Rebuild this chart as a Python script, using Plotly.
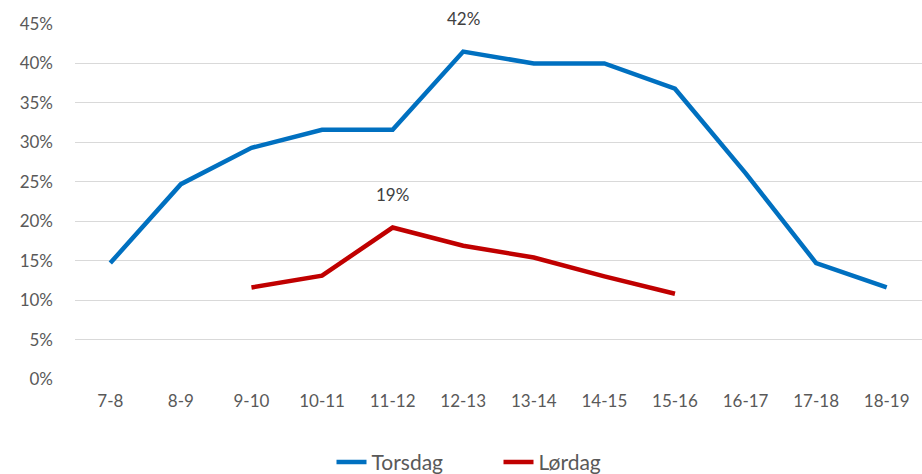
import plotly.graph_objects as go

hours = ["7-8", "8-9", "9-10", "10-11", "11-12", "12-13",
         "13-14", "14-15", "15-16", "16-17", "17-18", "18-19"]
torsdag = [14.7, 24.7, 29.3, 31.6, 31.6, 41.5, 40.0, 40.0, 36.8, 26.1, 14.7, 11.6]
lordag = [None, None, 11.6, 13.1, 19.2, 16.9, 15.4, 13.0, 10.8, None, None, None]

BLUE = "#0070C0"
RED = "#C00000"
TXT = "#595959"
FONT = "Lato"

fig = go.Figure()
fig.add_trace(go.Scatter(x=hours, y=torsdag, mode="lines", name="Torsdag",
                         line=dict(color=BLUE, width=4.5)))
fig.add_trace(go.Scatter(x=hours, y=lordag, mode="lines", name="Lørdag",
                         line=dict(color=RED, width=4.5)))

# labels on the peaks
for series in (torsdag, lordag):
    vals = [v for v in series if v is not None]
    peak = max(vals)
    i = series.index(peak)
    fig.add_annotation(x=hours[i], y=peak, text=f"{round(peak):.0f}%",
                       showarrow=False, yshift=33,
                       font=dict(family=FONT, size=17, color="#404040"))

fig.update_layout(
    width=922, height=474,
    margin=dict(l=75, r=0, t=24, b=95, autoexpand=False),
    plot_bgcolor="white", paper_bgcolor="white",
    font=dict(family=FONT, size=17, color=TXT),
    showlegend=True,
    legend=dict(orientation="h", x=0.5, xanchor="center", y=-0.235,
                yanchor="middle", font=dict(family=FONT, size=21, color=TXT),
                entrywidth=122),
)
fig.update_xaxes(type="category", range=[-0.5, len(hours) - 0.5],
                 showgrid=False, showline=False, automargin=False,
                 zeroline=False, ticks="", ticklabelstandoff=10,
                 tickfont=dict(size=17, color=TXT))
fig.update_yaxes(range=[0, 45], dtick=5, ticksuffix="%", automargin=False,
                 showgrid=True, gridcolor="#D9D9D9", gridwidth=1.3,
                 zeroline=False, showline=False, ticks="",
                 ticklabelstandoff=21, tickfont=dict(size=17, color=TXT))

# drop the page's default body margin so the chart sits at the corner
fig.write_html("out.html", config={"displayModeBar": False},
               post_script="document.body.style.margin='0';")
